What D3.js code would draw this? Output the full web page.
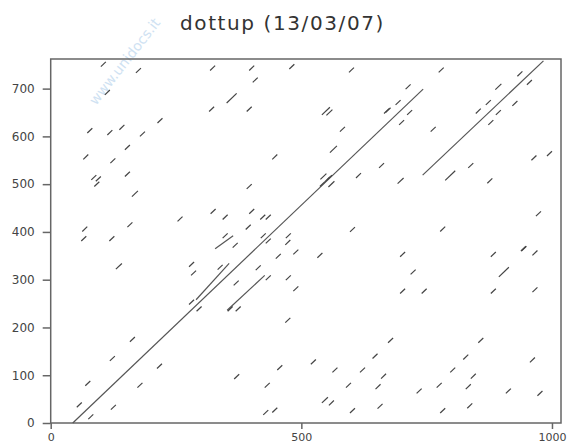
<!DOCTYPE html>
<html>
<head>
<meta charset="utf-8">
<script src="https://cdn.jsdelivr.net/npm/d3@7"></script>
<style>
  body { margin: 0; background: #fff; }
  svg { display: block; }
  .tick text { font-family: "DejaVu Sans", sans-serif; fill: #444; }
</style>
</head>
<body>
<svg id="chart" width="567" height="445"></svg>
<script>
// long diagonal runs: [x1, y1, x2, y2]
const longRuns = [
  [44, 0, 743, 699],
  [742, 519, 983, 758],
  [290, 258, 356, 334],
  [352, 236, 427, 309],
  [328, 365, 364, 392]
];

// short word matches: [x, y] centre, and length
const shortX = [105,175,113,78,118,142,218,183,70,124,153,86,95,92,153,168,258,158,68,66,122,
  323,401,481,600,408,361,321,396,549,556,670,582,564,447,660,614,544,552,560,396,324,401,348,423,434,394,602,348,424,474,368,434,
  779,713,693,673,716,700,763,936,955,893,853,873,893,878,926,964,995,838,797,698,876,973,782,943,
  136,281,285,281,296,163,123,217,74,178,57,125,80,
  473,489,454,537,338,414,370,434,474,489,358,374,473,371,457,524,432,567,622,647,664,594,653,547,560,429,447,602,657,
  702,723,702,745,883,944,966,904,883,966,678,858,828,961,802,843,775,735,833,913,976,782,836,542,556];
const shortY = [751,738,692,612,608,619,633,605,557,549,577,514,511,500,521,480,427,415,406,386,386,
  743,743,746,739,718,680,657,657,653,650,653,615,573,557,539,518,516,510,500,495,443,443,431,431,431,410,405,392,392,392,372,381,
  739,704,671,655,650,629,615,731,713,704,653,671,650,629,669,555,564,539,518,507,507,438,406,365,
  328,332,314,253,239,175,135,119,83,79,38,33,13,
  378,358,349,351,326,325,293,304,304,281,239,239,215,97,116,128,79,111,111,140,98,79,76,48,42,22,27,26,35,
  353,316,276,276,353,365,356,316,276,279,173,173,138,132,111,98,79,67,76,67,62,26,36,500,514];
const shortLen = [10,10,10,10,10,10,10,10,10,10,10,10,10,10,10,12,10,10,10,10,10,
  10,10,10,10,10,20,10,10,16,12,10,10,14,10,10,10,12,10,12,10,10,10,10,10,10,10,10,10,10,10,10,10,
  10,10,10,10,10,10,10,10,10,12,10,10,10,10,10,10,10,10,20,12,10,10,10,10,
  12,10,10,10,10,10,10,10,10,10,10,10,10,
  10,10,10,10,10,10,10,10,10,10,10,10,10,10,10,10,10,10,10,10,10,10,10,12,10,10,10,10,10,
  10,10,10,10,10,10,10,20,10,10,10,10,10,10,10,10,10,10,10,10,10,10,10,10,10];

const yTicks = [0, 100, 200, 300, 400, 500, 600, 700];
const xTicks = [0, 500, 1000];
const titleText = "dottup (13/03/07)";

const svg = d3.select("#chart");
const x = d3.scaleLinear().domain([0, 1018]).range([50.7, 561]);
const y = d3.scaleLinear().domain([0, 762]).range([423, 59]);

// title
svg.append("text")
  .attr("x", 282.5)
  .attr("y", 30)
  .attr("text-anchor", "middle")
  .style("font-family", "'DejaVu Sans', sans-serif")
  .style("font-size", "20px")
  .style("letter-spacing", "1.6px")
  .style("fill", "#333")
  .text(titleText);

// watermark
svg.append("text")
  .attr("transform", "translate(96,106) rotate(-52)")
  .style("font-family", "DejaVu Sans, sans-serif")
  .style("font-size", "14px")
  .style("fill", "#bcd6ee")
  .style("opacity", 0.7)
  .text("www.unidocs.it");

// frame
svg.append("rect")
  .attr("x", x(0))
  .attr("y", y(762))
  .attr("width", x(1018) - x(0))
  .attr("height", y(0) - y(762))
  .attr("fill", "none")
  .attr("stroke", "#666")
  .attr("stroke-width", 1.5);

// axes
const fmt = d3.format("d");
const yAxis = svg.append("g")
  .attr("transform", `translate(${x(0)},0)`)
  .call(d3.axisLeft(y).tickValues(yTicks).tickFormat(fmt).tickSize(8).tickPadding(8));
const xAxis = svg.append("g")
  .attr("transform", `translate(0,${y(0)})`)
  .call(d3.axisBottom(x).tickValues(xTicks).tickFormat(fmt).tickSize(6).tickPadding(4));
[yAxis, xAxis].forEach(g => {
  g.select(".domain").remove();
  g.selectAll(".tick line").attr("stroke", "#666").attr("stroke-width", 1.5);
  g.selectAll(".tick text").style("font-size", "12px");
});
xAxis.selectAll(".tick text").style("font-size", "11px");

// long runs
svg.append("g").selectAll("line")
  .data(longRuns)
  .enter()
  .append("line")
  .attr("x1", d => x(d[0]))
  .attr("y1", d => y(d[1]))
  .attr("x2", d => x(d[2]))
  .attr("y2", d => y(d[3]))
  .attr("stroke", "#555")
  .attr("stroke-width", 1.2);

// short matches
const shorts = shortX.map((v, i) => ({ cx: v, cy: shortY[i], len: shortLen[i] }));
svg.append("g").selectAll("line")
  .data(shorts)
  .enter()
  .append("line")
  .attr("x1", d => x(d.cx - d.len / 2))
  .attr("y1", d => y(d.cy - d.len / 2))
  .attr("x2", d => x(d.cx + d.len / 2))
  .attr("y2", d => y(d.cy + d.len / 2))
  .attr("stroke", "#444")
  .attr("stroke-width", 1.2);
</script>
</body>
</html>
